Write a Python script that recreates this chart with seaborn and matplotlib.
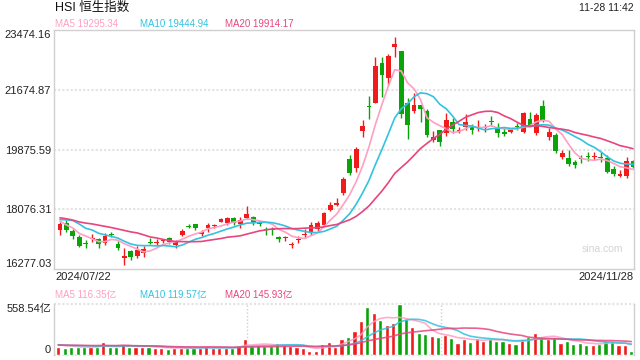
# HSI daily candles with MA lines and volume panel
import numpy as np
import pandas as pd
import seaborn as sns
import matplotlib.pyplot as plt

# price data (index points)
opens = [17451, 17662, 17421, 17240, 17060, 17170, 17180, 17060, 17320, 17030,
         16620, 16820, 16670, 16760, 17080, 17070, 17110, 17210, 17000, 17300,
         17560, 17620, 17330, 17520, 17560, 17690, 17660, 17810, 17630, 17810,
         17840, 17650, 17470, 17460, 17240, 17200, 17010, 17160, 17310, 17360,
         17480, 17600, 18050, 18200, 18560, 19590, 19320, 20430, 21180, 21280,
         22480, 22030, 22960, 22840, 21270, 21030, 21210, 21030, 20160, 20460,
         20370, 20700, 20440, 20550, 20550, 20520, 20520, 20700, 20550, 20400,
         20400, 20580, 20400, 20790, 20370, 21180, 20250, 20310, 19650, 19620,
         19500, 19600, 19660, 19660, 19630, 19620, 19290, 19080, 19080, 19530]
highs = [17692, 17750, 17480, 17300, 17150, 17330, 17200, 17360, 17390, 17130,
         16910, 16850, 16980, 16970, 17210, 17180, 17190, 17240, 17150, 17470,
         17630, 17640, 17460, 17660, 17640, 17800, 17850, 17850, 17840, 18170,
         17870, 17710, 17530, 17550, 17270, 17270, 17100, 17280, 17490, 17690,
         17720, 17990, 18290, 18410, 19060, 19700, 19950, 20760, 21480, 22650,
         22660, 22750, 23260, 22850, 21420, 21570, 21210, 21090, 20430, 20460,
         20970, 20820, 20550, 20940, 20640, 20760, 20640, 20880, 20670, 20550,
         20520, 20670, 21000, 21000, 20960, 21360, 20520, 20370, 19860, 19860,
         19560, 19710, 19800, 19800, 19800, 19710, 19380, 19260, 19650, 19560]
lows = [17300, 17400, 17180, 16940, 16910, 17090, 16900, 17000, 17240, 16850,
        16400, 16560, 16620, 16640, 17030, 17000, 17050, 17030, 16900, 17280,
        17510, 17450, 17280, 17400, 17520, 17680, 17600, 17610, 17510, 17780,
        17600, 17560, 17300, 17300, 17090, 17120, 16920, 17060, 17220, 17300,
        17420, 17570, 18020, 18170, 18500, 19100, 19200, 20250, 20800, 21270,
        21450, 21830, 22660, 20820, 20190, 20970, 20700, 20250, 20100, 19980,
        20280, 20370, 20370, 20460, 20340, 20430, 20400, 20580, 20250, 20280,
        20370, 20460, 20370, 20580, 20300, 20700, 20160, 19760, 19590, 19380,
        19320, 19470, 19530, 19560, 19500, 19170, 19080, 19050, 19020, 19320]
closes = [17632, 17451, 17270, 16970, 17030, 17210, 17030, 17270, 17300, 16910,
          16680, 16640, 16850, 16880, 17060, 17100, 17150, 17100, 17100, 17420,
          17540, 17500, 17380, 17610, 17600, 17780, 17810, 17660, 17750, 17930,
          17660, 17630, 17450, 17440, 17180, 17230, 17040, 17190, 17340, 17600,
          17660, 17960, 18200, 18260, 19000, 19170, 19890, 20580, 21150, 22390,
          22120, 22690, 23050, 20940, 20610, 21210, 21090, 20310, 20250, 20100,
          20760, 20490, 20470, 20700, 20460, 20550, 20550, 20690, 20370, 20340,
          20490, 20565, 20970, 20610, 20910, 20730, 20400, 19830, 19770, 19440,
          19410, 19580, 19640, 19690, 19610, 19200, 19140, 19140, 19530, 19350]
# volume in 亿
volumes = [89, 78, 89, 89, 89, 86, 89, 145, 89, 89,
           123, 89, 89, 89, 89, 78, 78, 67, 78, 78,
           78, 78, 78, 97, 78, 78, 78, 78, 112, 179,
           97, 110, 100, 95, 134, 112, 100, 89, 78, 48,
           48, 123, 145, 89, 179, 201, 268, 369, 525, 458,
           380, 324, 346, 558, 391, 302, 246, 235, 212, 201,
           223, 182, 134, 179, 145, 190, 156, 179, 156, 156,
           134, 123, 179, 201, 246, 201, 179, 201, 134, 156,
           123, 134, 112, 112, 123, 156, 156, 112, 112, 48]
# sessions before the first candle, only used for the moving averages
prior_closes = [18028, 18073, 18090, 17716, 17719, 17769, 17979, 18028, 17800, 17524,
                17523, 17472, 18047, 18293, 17728, 18016, 17739, 17778, 17418]
prior_volumes = [112, 105, 98, 120, 104, 95, 110, 118, 102, 97,
                 125, 108, 115, 99, 106, 130, 112, 121, 117]

price_ticks = [16277.03, 18076.31, 19875.59, 21674.87, 23474.16]
vol_max = 558.54
first_date, last_date = "2024/07/22", "2024/11/28"
title = "HSI 恒生指数"
stamp = "11-28 11:42"
price_legend = ["MA5 19295.34", "MA10 19444.94", "MA20 19914.17"]
vol_legend = ["MA5 116.35亿", "MA10 119.57亿", "MA20 145.93亿"]

UP, DOWN = "#f01c1c", "#0aa30a"
MA_COLORS = ["#ff9fc3", "#33c2e0", "#e8457e"]
GRID = "#e3e3e3"
FRAME = "#d0d0d0"

sns.set_style("white")
plt.rcParams["font.family"] = ["Liberation Sans", "Noto Sans CJK SC", "DejaVu Sans"]

df = pd.DataFrame({"open": opens, "high": highs, "low": lows,
                   "close": closes, "volume": volumes})
df["idx"] = np.arange(len(df))
df["dir"] = np.where(df["close"] >= df["open"], "up", "down")
all_close = pd.Series(prior_closes + closes, dtype=float)
all_vol = pd.Series(prior_volumes + volumes, dtype=float)
n0 = len(prior_closes)
for n in (5, 10, 20):
    df[f"ma{n}"] = all_close.rolling(n).mean().iloc[n0:].values
    df[f"vma{n}"] = all_vol.rolling(n).mean().iloc[n0:].values

colors = np.where(df["dir"] == "up", UP, DOWN)
body_lo = df[["open", "close"]].min(axis=1)
body_h = (df["close"] - df["open"]).abs().clip(lower=30)

fig = plt.figure(figsize=(6.4, 3.6), dpi=100)
ax = fig.add_axes([54 / 640, 91 / 360, 580 / 640, 239 / 360])
axv = fig.add_axes([54 / 640, 5 / 360, 580 / 640, 51 / 360])

# --- price panel
for y in price_ticks[1:-1]:
    ax.axhline(y, color=GRID, lw=1.5, ls=(0, (1, 1)), zorder=0)
ax.vlines(df["idx"], df["low"], df["high"], colors=colors, lw=1, zorder=2)
ax.bar(df["idx"], body_h, bottom=body_lo, width=0.74, color=colors, lw=0, zorder=2)
for n, c in zip((5, 10, 20), MA_COLORS):
    sns.lineplot(data=df, x="idx", y=f"ma{n}", ax=ax, color=c, lw=1.2, zorder=3)

ax.set_xlim(-0.93, 89.16)
ax.set_ylim(price_ticks[0], price_ticks[-1])
ax.set_yticks(price_ticks)
ax.set_yticklabels([f"{v:.2f}" for v in price_ticks])
ax.set_xticks([])
ax.set_xlabel("")
ax.set_ylabel("")
ax.tick_params(axis="y", length=0, labelsize=8, pad=2, labelcolor="#222222")
lbls = ax.get_yticklabels()
lbls[0].set_va("bottom")
lbls[-1].set_va("top")
for s in ax.spines.values():
    s.set_color(FRAME)
    s.set_linewidth(1)
ax.text(0.945, 0.084, "sina.com", transform=ax.transAxes, ha="center",
        va="center", fontsize=7.5, color="#d4d4d4")

# --- volume panel
sns.barplot(data=df, x="idx", y="volume", hue="dir", dodge=False,
            palette={"up": UP, "down": DOWN}, saturation=1, width=0.65,
            legend=False, ax=axv, zorder=2)
for n, c in zip((5, 10, 20), MA_COLORS):
    sns.lineplot(data=df, x="idx", y=f"vma{n}", ax=axv, color=c, lw=1.2,
                 alpha=0.85, zorder=3)
axv.set_xlim(-0.67, 89.42)
axv.set_ylim(0, vol_max)
axv.set_yticks([0, vol_max])
axv.set_yticklabels(["0", f"{vol_max:.2f}亿"])
axv.set_xticks([])
axv.set_xlabel("")
axv.set_ylabel("")
axv.tick_params(axis="y", length=0, labelsize=8, pad=2, labelcolor="#222222")
vl = axv.get_yticklabels()
vl[0].set_va("bottom")
vl[1].set_va("top")
for side in ("top", "bottom"):
    axv.spines[side].set_visible(False)
for side in ("left", "right"):
    axv.spines[side].set_color(FRAME)
    axv.spines[side].set_linewidth(1)
for yf in (0, 1):
    axv.plot([0, 1], [yf, yf], transform=axv.transAxes, color=GRID, lw=1.5,
             ls=(0, (1, 1)), zorder=0, clip_on=False)
for xf in (1 / 3, 2 / 3):
    axv.plot([xf, xf], [0, 1], transform=axv.transAxes, color="#cfcfcf", lw=1,
             ls=(0, (1, 1.5)), zorder=1)

# --- texts
fig.text(55 / 640, 1 - 8 / 360, title, fontsize=9, va="center", color="#111111")
fig.text(634 / 640, 1 - 8 / 360, stamp, fontsize=7.5, va="center", ha="right",
         color="#222222")
for x, t, c in zip((55, 140, 225), price_legend, MA_COLORS):
    fig.text(x / 640, 1 - 24 / 360, t, fontsize=7, va="center", color=c)
for x, t, c in zip((55, 140, 225), vol_legend, MA_COLORS):
    fig.text(x / 640, 1 - 295 / 360, t, fontsize=7, va="center", color=c)
fig.text(55 / 640, 1 - 277 / 360, first_date, fontsize=8, va="center", color="#222222")
fig.text(634 / 640, 1 - 277 / 360, last_date, fontsize=8, va="center", ha="right",
         color="#222222")

fig.savefig("out.png", dpi=100)
